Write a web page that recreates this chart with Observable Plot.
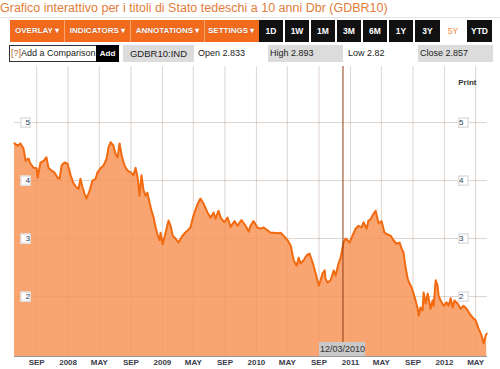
<!DOCTYPE html>
<html><head><meta charset="utf-8">
<script src="https://cdn.jsdelivr.net/npm/d3@7"></script>
<script src="https://cdn.jsdelivr.net/npm/@observablehq/plot@0.6"></script>
<style>
body{margin:0;width:500px;height:369px;overflow:hidden;background:#fff;font-family:"Liberation Sans",Arial,sans-serif;position:relative}
.a{position:absolute;white-space:nowrap;box-sizing:border-box}
#title{left:0;top:0;font-size:12.5px;color:#e27d3a;line-height:16px;width:500px;height:18px;border-bottom:1px solid #e4e4e4}
.tb{top:20px;height:22px;line-height:22px;color:#fff;font-weight:bold;font-size:8px;text-align:center;background:#f26b1d;text-shadow:0 0 1px #a04010}
.sep{top:20px;height:22px;width:1px;background:#f9a36e}
.bb{top:20px;height:22px;line-height:22px;width:24px;color:#fff;font-weight:bold;font-size:8.5px;text-align:center;background:#111}
.r2{top:45px;height:17px;line-height:17px;font-size:9px;color:#222}
#chart{position:absolute;left:0;top:0}
</style></head>
<body>
<div id="chart"></div>
<div class="a" id="title">Grafico interattivo per i titoli di Stato tedeschi a 10 anni Dbr (GDBR10)</div>
<div class="a tb" style="left:10px;width:250px"></div>
<div class="a tb" style="left:10px;width:54px">OVERLAY ▾</div>
<div class="a sep" style="left:64px"></div>
<div class="a tb" style="left:65px;width:65px">INDICATORS ▾</div>
<div class="a sep" style="left:130px"></div>
<div class="a tb" style="left:131px;width:73px">ANNOTATIONS ▾</div>
<div class="a sep" style="left:204px"></div>
<div class="a tb" style="left:205px;width:55px;text-align:left;padding-left:3px">SETTINGS ▾</div>
<div class="a bb" style="left:259px">1D</div>
<div class="a bb" style="left:285px">1W</div>
<div class="a bb" style="left:311px">1M</div>
<div class="a bb" style="left:337px">3M</div>
<div class="a bb" style="left:363px">6M</div>
<div class="a bb" style="left:389px">1Y</div>
<div class="a bb" style="left:415px;width:25px">3Y</div>
<div class="a bb" style="left:441px;width:24px;background:#fff;color:#f08a40;font-weight:normal">5Y</div>
<div class="a bb" style="left:467px;width:25px">YTD</div>
<div class="a r2" style="left:9px;width:88px;border:1px solid #333;line-height:15px;padding-left:1px;background:#fff"><span style="color:#b5662d">[?]</span>Add a Comparison</div>
<div class="a r2" style="left:96px;width:23px;background:#000;color:#fff;font-weight:bold;font-size:8px;text-align:center">Add</div>
<div class="a r2" style="left:123px;width:71px;background:#dcdcdc;text-align:center;font-size:9.5px">GDBR10:IND</div>
<div class="a r2" style="left:198px">Open 2.833</div>
<div class="a r2" style="left:268px;width:75px;background:#dcdcdc;padding-left:2px">High 2.893</div>
<div class="a r2" style="left:348px">Low 2.82</div>
<div class="a r2" style="left:418px;width:75px;background:#dcdcdc;padding-left:2px">Close 2.857</div>
<script>
const dates = ["2007-06-07","2007-06-19","2007-06-30","2007-07-12","2007-07-20","2007-07-31","2007-08-08","2007-08-20","2007-09-01","2007-09-05","2007-09-16","2007-09-28","2007-10-09","2007-10-17","2007-10-29","2007-11-09","2007-11-21","2007-11-29","2007-12-07","2007-12-18","2007-12-30",
"2008-01-11","2008-01-22","2008-02-03","2008-02-11","2008-02-18","2008-02-26","2008-03-05","2008-03-13","2008-03-25","2008-04-05","2008-04-17","2008-04-24","2008-05-06","2008-05-18","2008-05-30","2008-06-06","2008-06-14","2008-06-25","2008-07-03","2008-07-11","2008-07-19","2008-07-27","2008-08-07","2008-08-19","2008-08-31","2008-09-11","2008-09-19","2008-09-27","2008-10-04","2008-10-12","2008-10-20","2008-10-28","2008-11-04","2008-11-12","2008-11-20","2008-11-28","2008-12-06","2008-12-13","2008-12-21","2008-12-25",
"2009-01-02","2009-01-13","2009-01-25","2009-02-02","2009-02-10","2009-02-21","2009-03-05","2009-03-16","2009-03-28","2009-04-09","2009-04-20","2009-05-02","2009-05-18","2009-05-29","2009-06-10","2009-06-25","2009-07-07","2009-07-19","2009-07-26","2009-08-07","2009-08-15","2009-08-30","2009-09-11","2009-09-23","2009-10-08","2009-10-20","2009-11-04","2009-11-20","2009-12-02","2009-12-09","2009-12-21",
"2010-01-05","2010-01-17","2010-01-29","2010-02-13","2010-02-25","2010-03-09","2010-03-24","2010-04-05","2010-04-16","2010-05-02","2010-05-14","2010-05-26","2010-06-06","2010-06-14","2010-06-21","2010-07-03","2010-07-15","2010-07-26","2010-08-07","2010-08-19","2010-08-31","2010-09-07","2010-09-15","2010-09-23","2010-09-26","2010-10-04","2010-10-16","2010-10-28","2010-11-04","2010-11-16","2010-11-24","2010-12-05","2010-12-13","2010-12-21","2010-12-29",
"2011-01-09","2011-01-21","2011-02-02","2011-02-13","2011-02-21","2011-03-05","2011-03-12","2011-03-20","2011-03-28","2011-04-09","2011-04-20","2011-05-02","2011-05-13","2011-05-25","2011-06-06","2011-06-17","2011-06-29","2011-07-11","2011-07-18","2011-07-26","2011-08-03","2011-08-11","2011-08-19","2011-08-26","2011-09-03","2011-09-11","2011-09-19","2011-09-23","2011-09-30","2011-10-08","2011-10-12","2011-10-20","2011-10-28","2011-10-31","2011-11-08","2011-11-16","2011-11-20","2011-11-28","2011-12-05","2011-12-09","2011-12-17","2011-12-29",
"2012-01-09","2012-01-17","2012-01-25","2012-02-02","2012-02-09","2012-02-21","2012-03-04","2012-03-15","2012-03-27","2012-04-07","2012-04-19","2012-05-01","2012-05-12","2012-05-24","2012-06-01","2012-06-09","2012-06-13"];
const yields = [4.64,4.60,4.64,4.55,4.34,4.38,4.29,4.22,4.21,4.05,4.31,4.34,4.40,4.22,4.17,4.14,4.05,4.03,4.26,4.31,4.29,
4.09,3.95,3.88,3.86,4.03,3.88,3.77,3.69,3.83,4.00,4.03,4.14,4.21,4.26,4.38,4.57,4.66,4.60,4.46,4.40,4.64,4.43,4.26,4.17,4.14,4.09,4.22,4.05,3.74,4.09,3.83,3.74,3.79,3.62,3.48,3.36,3.19,3.07,2.97,3.10,
2.90,3.09,3.31,3.22,3.05,3.00,2.93,3.02,3.09,3.14,3.19,3.40,3.60,3.69,3.60,3.45,3.36,3.45,3.34,3.48,3.36,3.28,3.36,3.20,3.30,3.22,3.32,3.22,3.12,3.22,3.30,
3.19,3.17,3.19,3.14,3.10,3.10,3.09,3.10,3.05,2.97,2.88,2.62,2.53,2.67,2.57,2.62,2.71,2.74,2.59,2.40,2.19,2.28,2.40,2.45,2.31,2.24,2.28,2.45,2.36,2.57,2.67,2.93,3.00,2.97,2.93,
3.05,3.17,3.22,3.19,3.28,3.17,3.31,3.33,3.40,3.48,3.26,3.30,3.10,3.07,3.05,2.97,2.91,2.93,2.83,2.76,2.50,2.31,2.22,2.16,2.05,1.93,1.79,1.67,1.81,1.76,2.07,1.88,2.05,1.98,1.79,1.93,1.84,2.28,2.19,2.02,1.93,1.84,
1.90,1.84,1.97,1.81,1.93,1.88,1.79,1.84,1.79,1.71,1.64,1.59,1.45,1.33,1.19,1.33,1.36];
const xTickDates = ["2007-09-01","2008-01-01","2008-05-01","2008-09-01","2009-01-01","2009-05-01","2009-09-01","2010-01-01","2010-05-01","2010-09-01","2011-01-01","2011-05-01","2011-09-01","2012-01-01","2012-05-01"];
const xTickLabels = ["SEP","2008","MAY","SEP","2009","MAY","SEP","2010","MAY","SEP","2011","MAY","SEP","2012","MAY"];
const yTicks = [2,3,4,5];
const markerDate = "2010-12-03";
const markerLabel = "12/03/2010";
const xDomain = ["2007-06-07","2012-06-16"];
const yDomain = [0.966, 5.966];

const data = dates.map((d,i)=>({date:new Date(d), value:yields[i]}));
const ticks = xTickDates.map((d,i)=>({date:new Date(d), label:xTickLabels[i]}));
const marker = new Date(markerDate);
const grid = {stroke:"#888", strokeOpacity:0.24};

const chart = Plot.plot({
  width:500, height:369,
  marginTop:66, marginBottom:13, marginLeft:14, marginRight:13,
  style:{fontFamily:"Liberation Sans, Arial, sans-serif", background:"transparent"},
  x:{type:"utc", domain:xDomain.map(d=>new Date(d)), axis:null},
  y:{domain:yDomain, axis:null},
  marks:[
    Plot.ruleX(ticks, {x:"date", ...grid}),
    Plot.ruleY(yTicks, grid),
    Plot.areaY(data, {x:"date", y1:yDomain[0], y2:"value", fill:"#f9a572", clip:true}),
    Plot.ruleX(ticks, {x:"date", stroke:"#c87840", strokeOpacity:0.12}),
    Plot.ruleY(yTicks, {stroke:"#c87840", strokeOpacity:0.12}),
    Plot.lineY(data, {x:"date", y:"value", stroke:"#f26a10", strokeWidth:2, strokeLinejoin:"round"}),
    Plot.ruleX([marker], {stroke:"#8c3c14", strokeWidth:1}),
    Plot.ruleY([yDomain[0]], {stroke:"#999", strokeWidth:1}),
    Plot.text(ticks, {x:"date", text:"label", frameAnchor:"bottom", dy:8, fontSize:8, fontWeight:"bold", fill:"#3a3a4a"}),
    Plot.dot(yTicks, {y:d=>d, frameAnchor:"left", dx:11, symbol:"square", r:5.2, fill:"white", stroke:"#e0e0e0"}),
    Plot.text(yTicks, {y:d=>d, frameAnchor:"left", dx:11, text:d=>String(d), fontSize:8, fill:"#2b3f63"}),
    Plot.dot(yTicks, {y:d=>d, frameAnchor:"right", dx:-24, symbol:"square", r:5.2, fill:"white", stroke:"#e0e0e0"}),
    Plot.text(yTicks, {y:d=>d, frameAnchor:"right", dx:-24, text:d=>String(d), fontSize:8, fill:"#2b3f63"}),
    Plot.text(["Print"], {frameAnchor:"top-right", dx:-11, dy:13, text:d=>d, fontSize:8, fontWeight:"bold", fill:"#333"})
  ]
});
document.getElementById("chart").appendChild(chart);
const mx = chart.scale("x").apply(marker);
const lab = document.createElement("div");
lab.className = "a";
lab.textContent = markerLabel;
lab.style.cssText = `left:${mx-23}px;top:342px;width:46px;height:14px;line-height:14px;background:#c9c9c9;color:#333;font-size:9px;text-align:center`;
document.body.appendChild(lab);
</script>
</body></html>
